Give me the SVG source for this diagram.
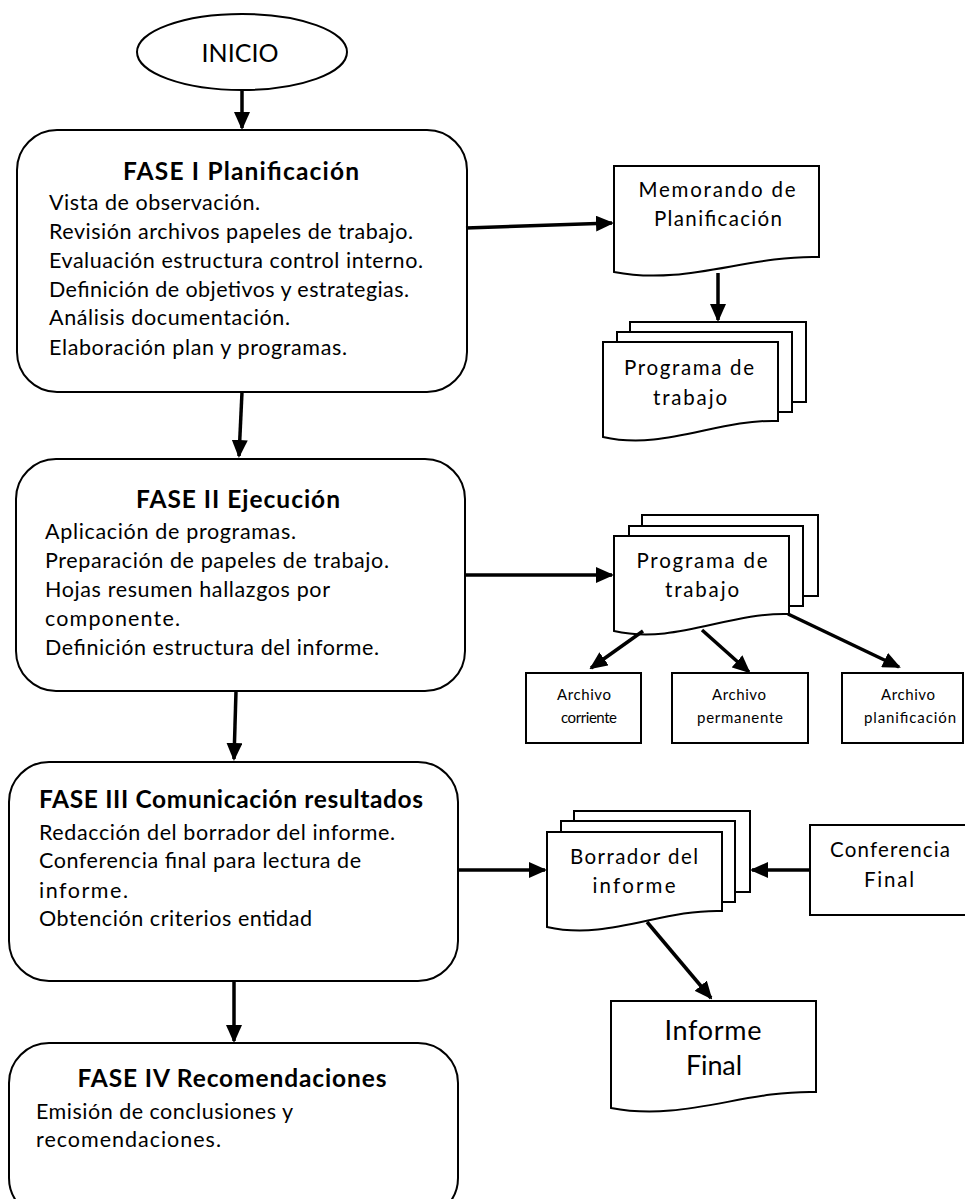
<svg xmlns="http://www.w3.org/2000/svg" width="965" height="1199" viewBox="0 0 965 1199">
  <style>
    .shape { fill: #ffffff; stroke: #000000; stroke-width: 2; }
    .txt { font-family: Lato, "Liberation Sans", sans-serif; fill: #000000; }
    .body { font-size: 21.5px; }
    .title { font-size: 24.5px; font-weight: bold; }
    .doc { font-size: 20.5px; text-anchor: middle; }
    .small { font-size: 15px; text-anchor: middle; }
    .mid { text-anchor: middle; }
    .conn { stroke: #000000; stroke-width: 3.5; fill: none; marker-end: url(#arrow); }
  </style>
  <defs>
    <marker id="arrow" markerUnits="userSpaceOnUse" markerWidth="18" markerHeight="16" viewBox="0 0 18 16" refX="16" refY="8" orient="auto">
      <path d="M0,0 L18,8 L0,16 Z" fill="#000000"/>
    </marker>
  </defs>

  <rect width="965" height="1199" fill="#ffffff"/>

  <!-- start terminator -->
  <g id="inicio">
    <ellipse class="shape" cx="242" cy="52" rx="105" ry="38"/>
    <text class="txt mid" x="240" y="62" font-size="25" textLength="77">INICIO</text>
  </g>

  <!-- phase I -->
  <g id="fase1">
    <rect class="shape" x="17" y="130" width="450" height="262" rx="40" ry="40"/>
    <text class="txt title mid" x="241" y="180" textLength="236">FASE I Planificación</text>
    <text class="txt body" x="49" y="210" textLength="211">Vista de observación.</text>
    <text class="txt body" x="49" y="239" textLength="364">Revisión archivos papeles de trabajo.</text>
    <text class="txt body" x="49" y="268" textLength="374">Evaluación estructura control interno.</text>
    <text class="txt body" x="49" y="297" textLength="360">Definición de objetivos y estrategias.</text>
    <text class="txt body" x="49" y="325" textLength="241">Análisis documentación.</text>
    <text class="txt body" x="49" y="355" textLength="298">Elaboración plan y programas.</text>
  </g>

  <!-- planning memo document -->
  <g id="memorando">
    <path class="shape" d="M614,166 H819 V257 C747,255 686,286 614,272 Z"/>
    <text class="txt doc" x="717" y="197" textLength="157">Memorando de</text>
    <text class="txt doc" x="718" y="226" textLength="128">Planificación</text>
  </g>

  <!-- work programme (stacked documents) -->
  <g id="programa1">
    <rect class="shape" x="630" y="322" width="176" height="80"/>
    <rect class="shape" x="617" y="332" width="175" height="80"/>
    <path class="shape" d="M603,342 H778 V421 C717,419 664,451 603,437 Z"/>
    <text class="txt doc" x="689" y="375" textLength="130">Programa de</text>
    <text class="txt doc" x="690" y="405" textLength="74">trabajo</text>
  </g>

  <!-- phase II -->
  <g id="fase2">
    <rect class="shape" x="16" y="459" width="449" height="232" rx="40" ry="40"/>
    <text class="txt title mid" x="238" y="508" textLength="204">FASE II Ejecución</text>
    <text class="txt body" x="45" y="539" textLength="251">Aplicación de programas.</text>
    <text class="txt body" x="45" y="568" textLength="344">Preparación de papeles de trabajo.</text>
    <text class="txt body" x="45" y="597" textLength="285">Hojas resumen hallazgos por</text>
    <text class="txt body" x="45" y="626" textLength="135">componente.</text>
    <text class="txt body" x="45" y="655" textLength="334">Definición estructura del informe.</text>
  </g>

  <!-- work programme during execution -->
  <g id="programa2">
    <rect class="shape" x="642" y="515" width="176" height="81"/>
    <rect class="shape" x="629" y="526" width="174" height="80"/>
    <path class="shape" d="M614,536 H789 V614 C728,612 675,645 614,631 Z"/>
    <text class="txt doc" x="702" y="568" textLength="131">Programa de</text>
    <text class="txt doc" x="702" y="597" textLength="74">trabajo</text>
  </g>

  <!-- files -->
  <g id="archivo-corriente">
    <rect class="shape" x="526" y="673" width="115" height="70"/>
    <text class="txt small" x="584" y="700" textLength="54">Archivo</text>
    <text class="txt small" x="589" y="723" textLength="56">corriente</text>
  </g>
  <g id="archivo-permanente">
    <rect class="shape" x="672" y="673" width="136" height="70"/>
    <text class="txt small" x="739" y="700" textLength="54">Archivo</text>
    <text class="txt small" x="740" y="723" textLength="86">permanente</text>
  </g>
  <g id="archivo-planificacion">
    <rect class="shape" x="842" y="673" width="121" height="70"/>
    <text class="txt small" x="908" y="700" textLength="54">Archivo</text>
    <text class="txt small" x="910" y="723" textLength="92">planificación</text>
  </g>

  <!-- phase III -->
  <g id="fase3">
    <rect class="shape" x="9" y="762" width="449" height="219" rx="40" ry="40"/>
    <text class="txt title" x="39" y="808" textLength="384">FASE III Comunicación resultados</text>
    <text class="txt body" x="39" y="840" textLength="356">Redacción del borrador del informe.</text>
    <text class="txt body" x="39" y="868" textLength="322">Conferencia final para lectura de</text>
    <text class="txt body" x="39" y="898" textLength="89">informe.</text>
    <text class="txt body" x="39" y="926" textLength="273">Obtención criterios entidad</text>
  </g>

  <!-- draft report -->
  <g id="borrador">
    <rect class="shape" x="574" y="811" width="176" height="81"/>
    <rect class="shape" x="561" y="821" width="174" height="81"/>
    <path class="shape" d="M547,832 H722 V911 C661,909 608,941 547,927 Z"/>
    <text class="txt doc" x="634" y="864" textLength="128">Borrador del</text>
    <text class="txt doc" x="634" y="893" textLength="83">informe</text>
  </g>

  <!-- final conference -->
  <g id="conferencia">
    <rect class="shape" x="810" y="825" width="160" height="90"/>
    <text class="txt doc" x="890" y="857" textLength="120">Conferencia</text>
    <text class="txt doc" x="889" y="887" textLength="50">Final</text>
  </g>

  <!-- final report -->
  <g id="informe-final">
    <path class="shape" d="M611,1001 H816 V1092 C744,1090 683,1122 611,1108 Z"/>
    <text class="txt mid" x="713" y="1040" font-size="27" textLength="97">Informe</text>
    <text class="txt mid" x="714" y="1075" font-size="27" textLength="56">Final</text>
  </g>

  <!-- phase IV (runs past the lower page edge) -->
  <g id="fase4">
    <rect class="shape" x="9" y="1043" width="449" height="175" rx="40" ry="40"/>
    <text class="txt title mid" x="232" y="1087" textLength="309">FASE IV Recomendaciones</text>
    <text class="txt body" x="36" y="1119" textLength="257">Emisión de conclusiones y</text>
    <text class="txt body" x="36" y="1147" textLength="185">recomendaciones.</text>
  </g>

  <!-- connectors -->
  <g id="connectors">
    <line class="conn" x1="242" y1="90" x2="242" y2="128"/>
    <line class="conn" x1="466" y1="228" x2="612" y2="223"/>
    <line class="conn" x1="718" y1="273" x2="718" y2="320"/>
    <line class="conn" x1="242" y1="392" x2="239" y2="456"/>
    <line class="conn" x1="465" y1="575" x2="612" y2="575"/>
    <line class="conn" x1="643" y1="631" x2="591" y2="668"/>
    <line class="conn" x1="702" y1="630" x2="749" y2="672"/>
    <line class="conn" x1="788" y1="614" x2="899" y2="667"/>
    <line class="conn" x1="236" y1="691" x2="234" y2="759"/>
    <line class="conn" x1="458" y1="870" x2="545" y2="870"/>
    <line class="conn" x1="810" y1="870" x2="752" y2="870"/>
    <line class="conn" x1="647" y1="922" x2="711" y2="998"/>
    <line class="conn" x1="234" y1="981" x2="234" y2="1041"/>
  </g>
</svg>
